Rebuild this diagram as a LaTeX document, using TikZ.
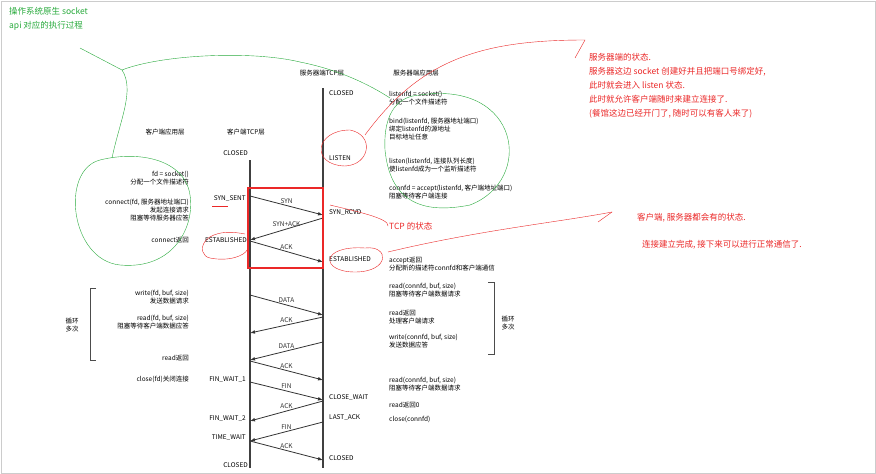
\documentclass[tikz,border=0pt]{standalone}
\usepackage{fontspec}
\setmainfont{Noto Sans CJK SC}
\usetikzlibrary{arrows.meta}
\definecolor{penred}{RGB}{235,40,40}
\definecolor{pengreen}{RGB}{40,170,60}
\begin{document}
\begin{tikzpicture}[x=1pt,y=-1pt,
	every node/.style={font=\fontsize{6.5}{8}\selectfont,inner sep=1pt},
	state/.style={font=\fontsize{6.5}{8}\selectfont},
	msg/.style={-{Latex[length=5pt]},thick,black!80},
	life/.style={line width=1.3pt,black!75},
	note/.style={text=penred,font=\fontsize{8.5}{10}\selectfont,anchor=west},
	ink/.style={penred,thin},
	green ink/.style={pengreen,thin}]
\useasboundingbox[fill=white] (0,0) rectangle (876,474);
\draw[black!20] (1,1) rectangle (875,473);
% headers
\node (capp) at (165,132) {客户端应用层};
\node (ctcp) at (246,132) {客户端TCP层};
\node (stcp) at (322,73) {服务器端TCP层};
\node (sapp) at (416,73) {服务器端应用层};
% lifelines
\coordinate (c0) at (250,160); \coordinate (c1) at (250,468);
\coordinate (s0) at (323,88);  \coordinate (s1) at (323,468);
\draw[life] (c0) -- (c1);
\draw[life] (s0) -- (s1);
% messages
\foreach \a/\b/\lab in {196/215/SYN,241/262/ACK,295/315/DATA,361/380/ACK,382/400/FIN,441/460/ACK}
	\draw[msg] (250,\a) -- node[above=1pt] {\lab} (323,\b);
\foreach \a/\b/\lab in {218/240/SYN+ACK,317/333/ACK,342/360/DATA,401/421/ACK,422/441/FIN}
	\draw[msg] (323,\a) -- node[above=1pt] {\lab} (250,\b);
% client states
\node[state,anchor=east] (cclosed) at (249,153) {CLOSED};
\node[state,anchor=east] (csent) at (247,199) {SYN\_SENT};
\node[state,anchor=east] (cest) at (248,240) {ESTABLISHED};
\node[state,anchor=east] (cfw1) at (247,380) {FIN\_WAIT\_1};
\node[state,anchor=east] (cfw2) at (247,419) {FIN\_WAIT\_2};
\node[state,anchor=east] (ctw) at (247,438) {TIME\_WAIT};
\node[state,anchor=east] (cend) at (249,465) {CLOSED};
% server states
\node[state,anchor=west] (sclosed) at (328,93) {CLOSED};
\node[state,anchor=west] (slisten) at (328,158) {LISTEN};
\node[state,anchor=west] (srcvd) at (328,213) {SYN\_RCVD};
\node[state,anchor=west] (sest) at (328,259) {ESTABLISHED};
\node[state,anchor=west] (scw) at (328,398) {CLOSE\_WAIT};
\node[state,anchor=west] (sla) at (328,418) {LAST\_ACK};
\node[state,anchor=west] (send) at (328,458) {CLOSED};
% client application
\node[align=right,anchor=east] (csock) at (190,178) {fd = socket()\\分配一个文件描述符};
\node[align=right,anchor=east] (cconn) at (190,210) {connect(fd, 服务器地址端口)\\发起连接请求\\阻塞等待服务器应答};
\node[anchor=east] (cret) at (190,240) {connect返回};
\node[align=right,anchor=east] (cwrite) at (190,297) {write(fd, buf, size)\\发送数据请求};
\node[align=right,anchor=east] (cread) at (190,322) {read(fd, buf, size)\\阻塞等待客户端数据应答};
\node[anchor=east] (cread2) at (190,358) {read返回};
\node[anchor=east] (cclose) at (190,379) {close(fd)关闭连接};
\draw[black!70] (96,288) -- (90,288) -- (90,360) -- (96,360);
\node[align=center] (cloop) at (72,325) {循环\\多次};
% server application
\node[align=left,anchor=west] (ssock) at (388,98) {listenfd = socket()\\分配一个文件描述符};
\node[align=left,anchor=west] (sbind) at (388,129) {bind(listenfd, 服务器地址端口)\\绑定listenfd的源地址\\目标地址任意};
\node[align=left,anchor=west] (slstn) at (388,165) {listen(listenfd, 连接队列长度)\\使listenfd成为一个监听描述符};
\node[align=left,anchor=west] (sacc) at (388,192) {connfd = accept(listenfd, 客户端地址端口)\\阻塞等待客户端连接};
\node[align=left,anchor=west] (sret) at (388,264) {accept返回\\分配新的描述符connfd和客户端通信};
\node[align=left,anchor=west] (sread) at (388,290) {read(connfd, buf, size)\\阻塞等待客户端数据请求};
\node[align=left,anchor=west] (sproc) at (388,317) {read返回\\处理客户端请求};
\node[align=left,anchor=west] (swrite) at (388,341) {write(connfd, buf, size)\\发送数据应答};
\node[align=left,anchor=west] (sread2) at (388,384) {read(connfd, buf, size)\\阻塞等待客户端数据请求};
\node[anchor=west] (sret0) at (388,405) {read返回0};
\node[anchor=west] (sclose) at (388,419) {close(connfd)};
\draw[black!70] (488,282) -- (494,282) -- (494,354) -- (488,354);
\node[align=center] (sloop) at (508,323) {循环\\多次};
% red annotations
\draw[penred,line width=1.2pt] (248,188) rectangle (323,268);
\node[note] (tcpst) at (388,226) {TCP 的状态};
\node[note,align=left,anchor=north west] (snote) at (588,52) {服务器端的状态.\\[4pt]服务器这边 socket 创建好并且把端口号绑定好,\\[4pt]此时就会进入 listen 状态.\\[4pt]此时就允许客户端随时来建立连接了.\\[4pt](餐馆这边已经开门了, 随时可以有客人来了)};
\node[note] (cnote) at (636,218) {客户端, 服务器都会有的状态.};
\node[note] (enote) at (641,245) {连接建立完成, 接下来可以进行正常通信了.};
\draw[ink] (345,166) .. controls (310,165) and (315,130) .. (350,130) .. controls (375,135) and (370,165) .. (345,166);
\draw[ink] (365,135) .. controls (420,60) and (480,40) .. (585,40);
\draw[ink] (585,40) -- (575,58);
\draw[ink] (365,248) .. controls (320,245) and (320,272) .. (355,272) .. controls (390,272) and (390,245) .. (365,248);
\draw[ink] (388,252) .. controls (480,230) and (560,222) .. (612,212);
\draw[ink] (612,212) -- (598,222);
\draw[ink] (330,205) .. controls (350,210) and (390,218) .. (388,226);
\draw[ink] (245,234) .. controls (200,225) and (195,255) .. (210,258) .. controls (230,262) and (245,255) .. (247,250);
\draw[ink] (212,206) -- (228,206);
% green annotations
\node[anchor=north west,text=pengreen,font=\fontsize{8.5}{10}\selectfont,align=left] (gnote) at (8,6) {操作系统原生 socket\\[4pt]api 对应的执行过程};
\draw[green ink] (100,160) .. controls (60,170) and (70,260) .. (120,265) .. controls (175,270) and (195,225) .. (190,195) .. controls (185,160) and (140,150) .. (100,160);
\draw[green ink] (112,158) .. controls (120,120) and (135,90) .. (122,70) .. controls (160,55) and (250,50) .. (300,62);
\draw[green ink] (300,62) .. controls (340,70) and (370,85) .. (390,98);
\draw[green ink] (420,95) .. controls (520,80) and (535,180) .. (470,205) .. controls (420,215) and (390,200) .. (385,150) .. controls (383,110) and (400,96) .. (420,95);
\draw[green ink] (122,70) -- (80,48);
\end{tikzpicture}
\end{document}
